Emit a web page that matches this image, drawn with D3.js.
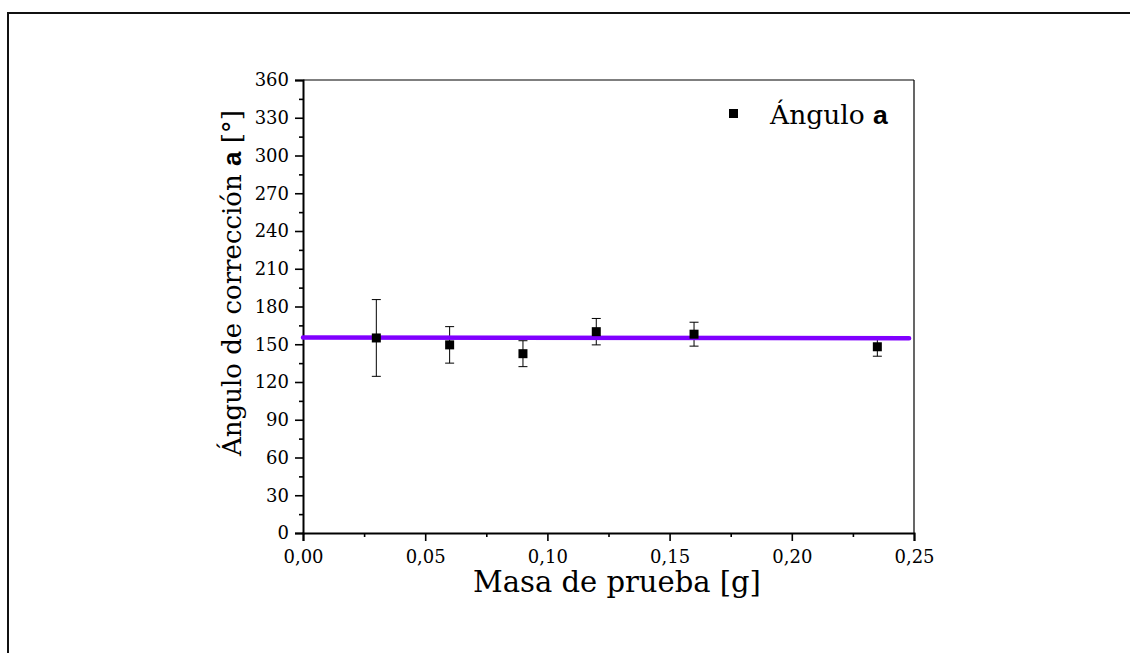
<!DOCTYPE html>
<html>
<head>
<meta charset="utf-8">
<script src="https://cdn.jsdelivr.net/npm/d3@7"></script>
<style>
  html, body { margin: 0; padding: 0; background: #fff; }
  svg { display: block; }
</style>
</head>
<body>
<svg id="chart" width="1130" height="653"></svg>
<script>
// ---- data ----
const masses = [0.03, 0.06, 0.09, 0.12, 0.16, 0.235];
const angles = [155, 149.5, 142.5, 160, 158, 148];
const errors = [30.5, 14.5, 10.3, 10.5, 9.5, 7.5];
const fitX = [0, 0.248];
const fitY = [155.4, 154.8];
const yTicks = [0, 30, 60, 90, 120, 150, 180, 210, 240, 270, 300, 330, 360];
const xTicks = [0, 0.05, 0.10, 0.15, 0.20, 0.25];
const legendLabel = "Ángulo ";
const legendBold = "a";

const svg = d3.select("#chart");
const serif = "'DejaVu Serif', serif";
const sans = "'Liberation Sans', Arial, sans-serif";

// outer frame (extends past right / bottom edges)
svg.append("rect")
  .attr("x", 8).attr("y", 13)
  .attr("width", 1200).attr("height", 800)
  .attr("fill", "none").attr("stroke", "#111").attr("stroke-width", 2);

const L = 303, R = 914, T = 80, B = 533;
const x = d3.scaleLinear().domain([0, 0.25]).range([L, R]);
const y = d3.scaleLinear().domain([0, 360]).range([B, T]);

// plot box (top/right thin)
svg.append("line").attr("x1", L).attr("x2", R).attr("y1", T).attr("y2", T)
  .attr("stroke", "#000").attr("stroke-width", 1.2);
svg.append("line").attr("x1", R).attr("x2", R).attr("y1", T).attr("y2", B)
  .attr("stroke", "#000").attr("stroke-width", 1.2);

const fmtX = d => d3.format(".2f")(d).replace(".", ",");

// minor ticks
const yMinor = d3.range(15, 360, 30);
const xMinor = d3.range(0.025, 0.25, 0.05);

const xAxis = svg.append("g").attr("transform", `translate(0,${B})`)
  .call(d3.axisBottom(x).tickValues(xTicks).tickFormat(fmtX).tickSize(8).tickPadding(9));
const xAxisMinor = svg.append("g").attr("transform", `translate(0,${B})`)
  .call(d3.axisBottom(x).tickValues(xMinor).tickFormat("").tickSize(4));
const yAxis = svg.append("g").attr("transform", `translate(${L},0)`)
  .call(d3.axisLeft(y).tickValues(yTicks).tickSize(8).tickPadding(6));
const yAxisMinor = svg.append("g").attr("transform", `translate(${L},0)`)
  .call(d3.axisLeft(y).tickValues(yMinor).tickFormat("").tickSize(4));

[xAxis, xAxisMinor, yAxis, yAxisMinor].forEach(g => {
  g.select(".domain").attr("stroke", "#000").attr("stroke-width", 2);
  g.selectAll(".tick line").attr("stroke", "#000").attr("stroke-width", 1.6);
  g.selectAll("text").attr("font-family", serif).attr("font-size", 18).attr("fill", "#000");
});
xAxisMinor.select(".domain").remove();
yAxisMinor.select(".domain").remove();

// error bars
const eb = svg.append("g");
masses.forEach((m, i) => {
  const cx = x(m), top = y(angles[i] + errors[i]), bot = y(angles[i] - errors[i]);
  eb.append("line").attr("x1", cx).attr("x2", cx).attr("y1", top).attr("y2", bot)
    .attr("stroke", "#000").attr("stroke-width", 1);
  [top, bot].forEach(v => eb.append("line")
    .attr("x1", cx - 4.5).attr("x2", cx + 4.5).attr("y1", v).attr("y2", v)
    .attr("stroke", "#000").attr("stroke-width", 1));
});

// fit line
svg.append("path")
  .datum(fitX.map((d, i) => [d, fitY[i]]))
  .attr("d", d3.line().x(d => x(d[0])).y(d => y(d[1])))
  .attr("fill", "none").attr("stroke", "#8000ff").attr("stroke-width", 4.5)
  .attr("stroke-linecap", "round");

// markers
svg.append("g").selectAll("rect").data(masses).join("rect")
  .attr("x", d => x(d) - 4.5)
  .attr("y", (d, i) => y(angles[i]) - 4.5)
  .attr("width", 9).attr("height", 9).attr("fill", "#000");

// legend
svg.append("rect").attr("x", 729).attr("y", 109).attr("width", 9).attr("height", 9).attr("fill", "#000");
const lt = svg.append("text").attr("x", 770).attr("y", 124)
  .attr("font-family", serif).attr("font-size", 26.5).attr("fill", "#000");
lt.append("tspan").text(legendLabel);
lt.append("tspan").attr("font-family", sans).attr("font-weight", "bold").text(legendBold);

// axis titles
svg.append("text")
  .attr("x", 617).attr("y", 592)
  .attr("text-anchor", "middle")
  .attr("font-family", serif).attr("font-size", 29).attr("fill", "#000")
  .text("Masa de prueba [g]");

const yt = svg.append("text")
  .attr("transform", `translate(241,283) rotate(-90)`)
  .attr("text-anchor", "middle")
  .attr("font-family", serif).attr("font-size", 26).attr("fill", "#000");
yt.append("tspan").text("Ángulo de corrección ");
yt.append("tspan").attr("font-family", sans).attr("font-weight", "bold").text("a");
yt.append("tspan").text(" [°]");
</script>
</body>
</html>
